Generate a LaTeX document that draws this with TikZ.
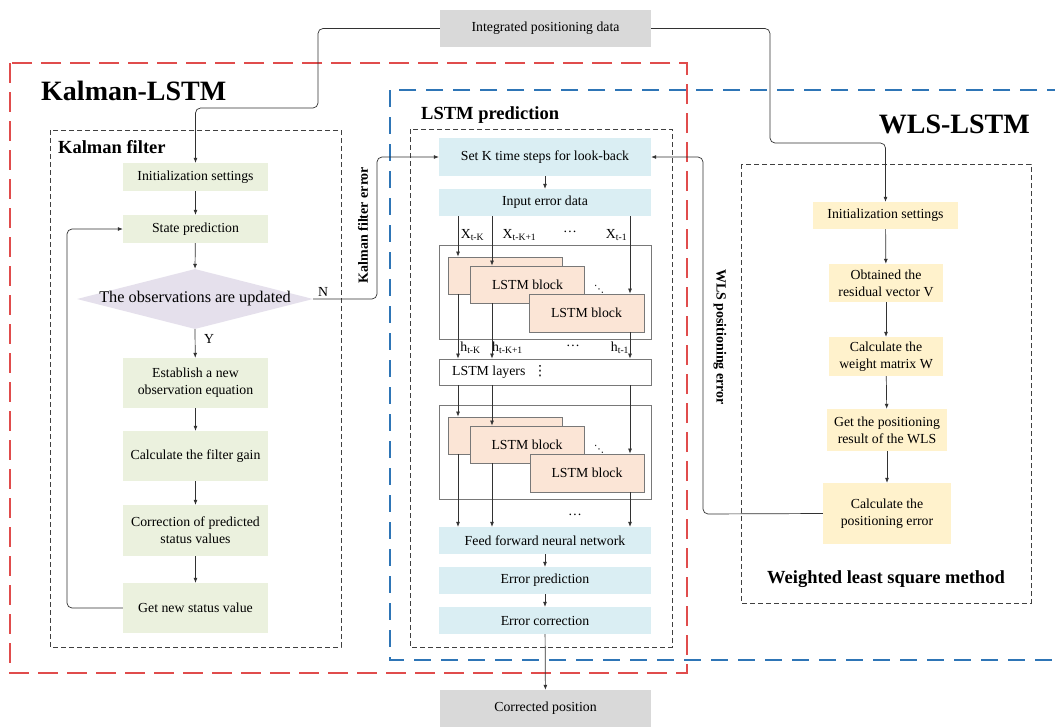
\documentclass[tikz,border=0pt]{standalone}
\usepackage{fontspec}
\setmainfont{Liberation Serif}
\newfontfamily\dejavu{DejaVu Sans}
\usetikzlibrary{arrows.meta,shapes.geometric}
\definecolor{kgreen}{RGB}{235,241,222}
\definecolor{klav}{RGB}{229,224,236}
\definecolor{lblue}{RGB}{218,238,243}
\definecolor{peach}{RGB}{251,229,214}
\definecolor{wyellow}{RGB}{255,242,204}
\definecolor{boxgray}{RGB}{217,217,217}
\definecolor{redd}{RGB}{224,76,76}
\definecolor{blued}{RGB}{46,117,182}
\definecolor{linec}{RGB}{50,50,50}
\definecolor{bordc}{RGB}{120,120,120}
\begin{document}
\begin{tikzpicture}[x=1pt,y=-1pt,
  txt/.style={font=\fontsize{13.8}{17}\selectfont},
  box/.style={txt,inner sep=0pt,align=center},
  gbox/.style={box,fill=kgreen,minimum width=145pt},
  bbox/.style={box,fill=lblue,minimum width=212pt},
  ybox/.style={box,fill=wyellow},
  graybox/.style={box,fill=boxgray,minimum width=211pt,minimum height=37pt},
  lstmblk/.style={box,fill=peach,draw=bordc,line width=0.8pt,minimum width=114pt,minimum height=37pt},
  frame/.style={draw=bordc,line width=0.8pt,fill=white,minimum width=212pt,inner sep=0pt},
  conn/.style={draw=linec,line width=0.7pt,-{Latex[length=5pt,width=4pt]}},
  gdash/.style={draw=black!75,line width=0.9pt,dash pattern=on 5pt off 3pt},
  title/.style={font=\fontsize{18.5}{20}\selectfont\bfseries,inner sep=0pt},
  big/.style={font=\fontsize{28}{30}\selectfont\bfseries,inner sep=0pt},
  sidelab/.style={font=\fontsize{14}{16}\selectfont\bfseries,inner sep=0pt},
  lab/.style={txt,inner sep=0pt},
  dots/.style={font=\dejavu\fontsize{10}{10}\selectfont,inner sep=0pt},
]
\useasboundingbox (0,0) rectangle (1055,726);
\fill[white] (0,0) rectangle (1055,726);

% outer frames
\draw[blued,line width=1.3pt,dash pattern=on 17pt off 10pt] (390,90) rectangle (1075,660);
\draw[redd,line width=1.3pt,dash pattern=on 20pt off 9pt] (10,63) rectangle (687,673);
\draw[gdash] (50,130) rectangle (341,647);
\draw[gdash] (410,129) rectangle (672,647);
\draw[gdash] (741,164) rectangle (1031,603);

% titles
\node[big,anchor=base west] (tkl) at (41,100) {Kalman-LSTM};
\node[big,anchor=base east] (twl) at (1030,133) {WLS-LSTM};
\node[title,anchor=base west] (tkf) at (58,153) {Kalman filter};
\node[title,anchor=base west] (tlp) at (421,119) {LSTM prediction};
\node[title,anchor=base] (twm) at (886,583) {Weighted least square method};

% top / bottom
\node[graybox] (integ) at (545.5,28.5) {Integrated positioning data};
\node[graybox] (corr) at (545.5,708.5) {Corrected position};

% Kalman filter column
\node[gbox,minimum height=28pt] (kinit) at (195.5,177) {Initialization settings};
\node[gbox,minimum height=28pt] (kstate) at (195.5,229) {State prediction};
\node[draw=none,fill=klav,shape=diamond,minimum width=236pt,minimum height=60pt,inner sep=0pt] (kdia) at (195,299) {};
\node[font=\fontsize{16.3}{18}\selectfont,inner sep=0pt] (kdiat) at (195,299) {The observations are updated};
\node[gbox,minimum height=50pt] (kest) at (195.5,383) {Establish a new\\observation equation};
\node[gbox,minimum height=50pt] (kgain) at (195.5,456) {Calculate the filter gain};
\node[gbox,minimum height=51pt] (kcorr) at (195.5,530.5) {Correction of predicted\\status values};
\node[gbox,minimum height=50pt] (knew) at (195.5,608) {Get new status value};

% LSTM column
\node[bbox,minimum height=38pt] (setk) at (545,157) {Set K time steps for look-back};
\node[bbox,minimum height=27pt] (input) at (545,202.5) {Input error data};
\node[frame,minimum height=94pt] (big1) at (545,292) {};
\node[lstmblk] (A1) at (505,275.5) {};
\node[lstmblk] (B1) at (527.5,284.5) {LSTM block};
\node[lstmblk,minimum width=115pt,minimum height=38pt] (C1) at (586.5,313) {LSTM block};
\node[dots] (d1) at (599,289) {⋱};
\node[frame,minimum height=26pt] (layers) at (545,372) {};
\node[lab,anchor=west] (layt) at (452,372) {LSTM layers};
\node[dots,font=\dejavu\fontsize{14}{14}\selectfont] (vd) at (540,371) {⋮};
\node[frame,minimum height=94pt] (big2) at (545,452) {};
\node[lstmblk] (A2) at (505.5,435.5) {};
\node[lstmblk] (B2) at (527,444.5) {LSTM block};
\node[lstmblk,minimum width=114pt,minimum height=38pt] (C2) at (587,473) {LSTM block};
\node[dots] (d2) at (599,449) {⋱};
\node[bbox,minimum height=27pt] (ffn) at (545,540.5) {Feed forward neural network};
\node[bbox,minimum height=27pt] (epred) at (545,580.5) {Error prediction};
\node[bbox,minimum height=27pt] (ecorr) at (545,620.5) {Error correction};

% x/h labels
\node[lab] (x1) at (472.5,235) {X\textsubscript{t-K}};
\node[lab] (x2) at (519.5,235) {X\textsubscript{t-K+1}};
\node[lab] (x3) at (570,232) {…};
\node[lab] (x4) at (616.5,235) {X\textsubscript{t-1}};
\node[lab] (h1) at (470.5,348) {h\textsubscript{t-K}};
\node[lab] (h2) at (507.5,348) {h\textsubscript{t-K+1}};
\node[lab] (h3) at (573,346) {…};
\node[lab] (h4) at (620,348) {h\textsubscript{t-1}};
\node[lab] (o3) at (575,515) {…};

% WLS column
\node[ybox,minimum width=145pt,minimum height=27pt] (winit) at (885.5,215.5) {Initialization settings};
\node[ybox,minimum width=114pt,minimum height=38pt] (wres) at (886,283) {Obtained the\\residual vector V};
\node[ybox,minimum width=114pt,minimum height=39pt] (wwt) at (886,356.5) {Calculate the\\weight matrix W};
\node[ybox,minimum width=120pt,minimum height=42pt] (wget) at (887,430) {Get the positioning\\result of the WLS};
\node[ybox,minimum width=128pt,minimum height=61pt] (wcalc) at (887,513.5) {Calculate the\\positioning error};

% side labels
\node[sidelab,rotate=90] (kfe) at (363,225) {Kalman filter error};
\node[sidelab,rotate=-90] (wpe) at (720,337) {WLS positioning error};
\node[lab] (nlab) at (323,292) {N};
\node[lab] (ylab) at (209,339) {Y};

% helper coordinates
\coordinate (ia) at (318,108);
\coordinate (ib) at (770,143);
\coordinate (kl) at (67,229);
\coordinate (kn) at (377,299);
\coordinate (wn) at (703,514);
\coordinate (xa) at (458,0);
\coordinate (xb) at (492,0);
\coordinate (xc) at (630,0);

% connectors: top
\draw[conn,rounded corners=5pt] (integ.west) -| (ia) -| (kinit.north);
\draw[conn,rounded corners=5pt] (integ.east) -| (ib) -| (winit.north);

% Kalman
\draw[conn] (kinit) -- (kstate);
\draw[conn] (kstate) -- (kdia.north);
\draw[conn] (kdia.south) -- (kest);
\draw[conn] (kest) -- (kgain);
\draw[conn] (kgain) -- (kcorr);
\draw[conn] (kcorr) -- (knew);
\draw[conn,rounded corners=5pt] (knew.west) -| (kl) -- (kstate.west);
\draw[conn,rounded corners=5pt] (kdia.east) -- (kn) |- (setk.west);

% WLS
\draw[conn] (winit) -- (wres);
\draw[conn] (wres) -- (wwt);
\draw[conn] (wwt) -- (wget);
\draw[conn] (wget) -- (wcalc);
\draw[conn,rounded corners=5pt] (wcalc.west) -- (wn) |- (setk.east);

% LSTM
\draw[conn] (setk) -- (input);
\draw[conn] (xa |- input.south) -- (xa |- A1.north);
\draw[conn] (xb |- input.south) -- (xb |- B1.north);
\draw[conn] (xc |- input.south) -- (xc |- C1.north);
\draw[conn] (xa |- A1.south) -- (xa |- layers.north);
\draw[conn] (xb |- B1.south) -- (xb |- layers.north);
\draw[conn] (xc |- C1.south) -- (xc |- layers.north);
\draw[conn] (xa |- layers.south) -- (xa |- A2.north);
\draw[conn] (xb |- layers.south) -- (xb |- B2.north);
\draw[conn] (xc |- layers.south) -- (xc |- C2.north);
\draw[conn] (xa |- A2.south) -- (xa |- ffn.north);
\draw[conn] (xb |- B2.south) -- (xb |- ffn.north);
\draw[conn] (xc |- C2.south) -- (xc |- ffn.north);
\draw[conn] (ffn) -- (epred);
\draw[conn] (epred) -- (ecorr);
\draw[conn] (ecorr) -- (corr);
\end{tikzpicture}
\end{document}
